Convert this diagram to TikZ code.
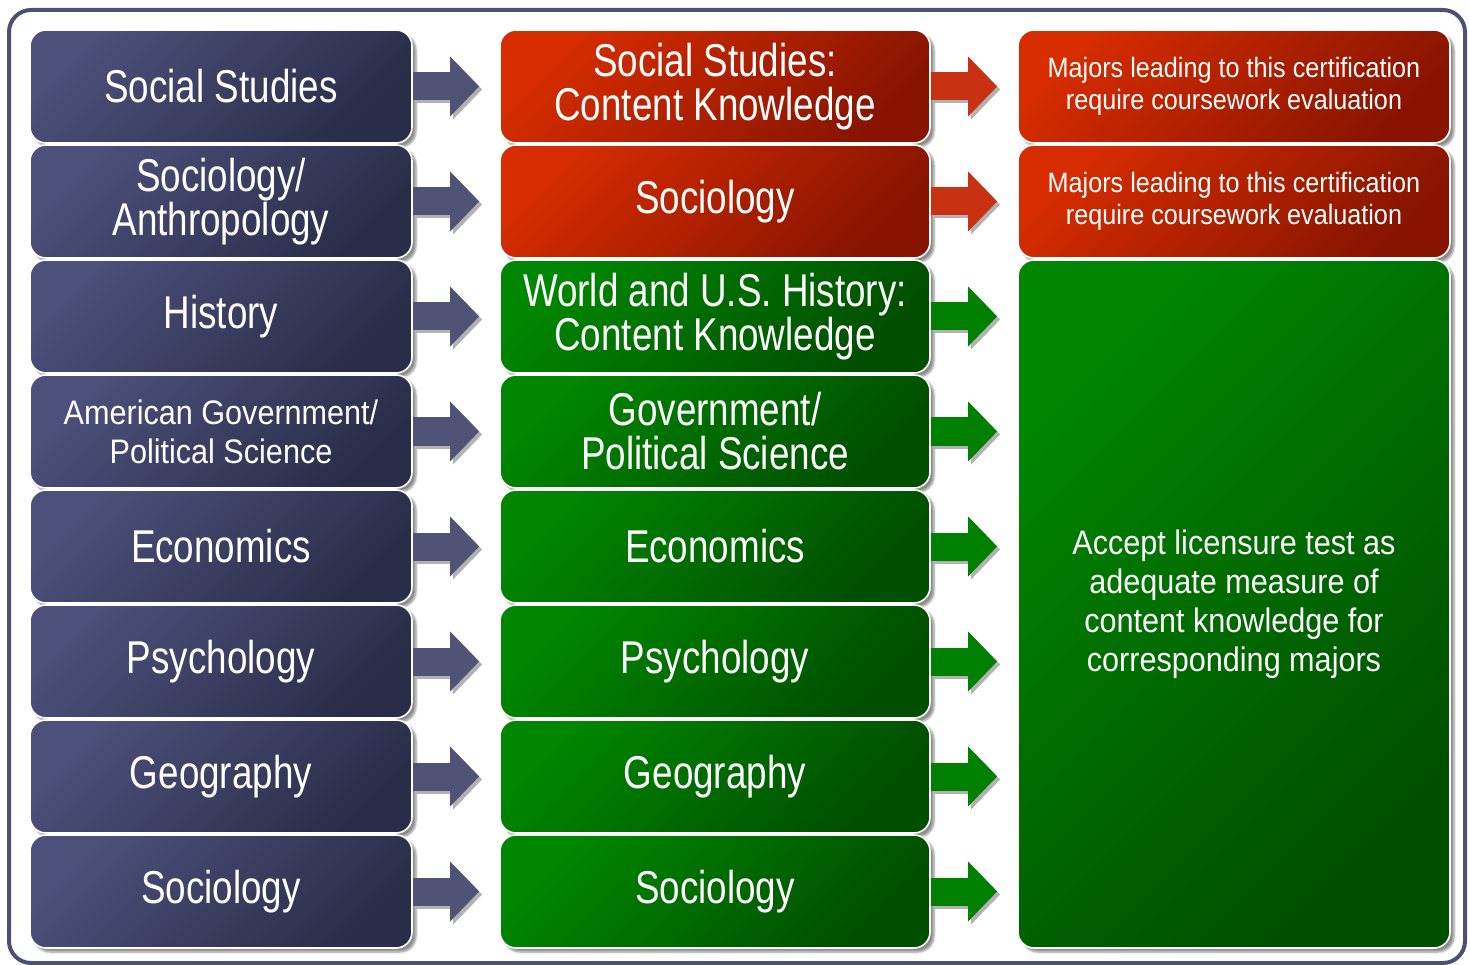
\documentclass[tikz,border=0pt]{standalone}
\usepackage{fontspec}
\setmainfont{Liberation Sans}[FakeStretch=0.9]
\newfontfamily\narrowfont{Liberation Sans}[FakeStretch=0.8]
\usepackage{tikz}
\usetikzlibrary{arrows.meta,shadows.blur}
\definecolor{frameSlate}{RGB}{76,80,116}
\definecolor{slateLight}{RGB}{76,80,122}
\definecolor{slateDark}{RGB}{42,45,72}
\definecolor{slateArrow}{RGB}{80,82,118}
\definecolor{redLight}{RGB}{214,44,0}
\definecolor{redDark}{RGB}{136,20,0}
\definecolor{redArrow}{RGB}{200,50,18}
\definecolor{greenLight}{RGB}{0,134,0}
\definecolor{greenDark}{RGB}{0,78,0}
\definecolor{greenArrow}{RGB}{0,128,0}

\begin{document}
\begin{tikzpicture}[x=1pt, y=-1pt,
      box/.style={rounded corners=16pt, draw=white, line width=1.6pt, text=white,
        align=center, inner sep=0pt, minimum height=113pt,
        blur shadow={shadow xshift=4pt, shadow yshift=-4pt, shadow blur steps=6, shadow opacity=45}},
      major/.style={box, minimum width=382pt, top color=slateLight, bottom color=slateDark,
        shading angle=45},
      redbox/.style={box, top color=redLight, bottom color=redDark, shading angle=45},
      greenbox/.style={box, top color=greenLight, bottom color=greenDark, shading angle=45},
      test/.style={minimum width=430pt},
      note/.style={minimum width=432pt},
      big/.style={font=\narrowfont\fontsize{46}{44}\selectfont},
      mid/.style={font=\fontsize{34}{39}\selectfont},
      small/.style={font=\fontsize{28}{32}\selectfont},
      conn/.style={line width=28pt, shorten >=20pt, -{Triangle[length=29pt, width=58pt]}},
      connshadow/.style={conn, black!30, transform canvas={shift={(3pt,-3pt)}}}]
    \useasboundingbox (0,0) rectangle (1470,965);
    \draw[frameSlate, line width=4pt, rounded corners=22pt] (9,10) rectangle (1465,963);
    % majors
    \node[major, big] (s1) at (221,86.5) {Social Studies};
    \node[major, big] (s2) at (221,201.5) {Sociology/\\Anthropology};
    \node[major, big] (s3) at (221,316.5) {History};
    \node[major, mid] (s4) at (221,431.5) {American Government/\\Political Science};
    \node[major, big] (s5) at (221,546.5) {Economics};
    \node[major, big] (s6) at (221,661.5) {Psychology};
    \node[major, big] (s7) at (221,776.5) {Geography};
    \node[major, big] (s8) at (221,891.5) {Sociology};
    % licensure tests
    \node[redbox, test, big] (m1) at (715,86.5) {Social Studies:\\Content Knowledge};
    \node[redbox, test, big] (m2) at (715,201.5) {Sociology};
    \node[greenbox, test, big] (m3) at (715,316.5) {World and U.S. History:\\Content Knowledge};
    \node[greenbox, test, big] (m4) at (715,431.5) {Government/\\Political Science};
    \node[greenbox, test, big] (m5) at (715,546.5) {Economics};
    \node[greenbox, test, big] (m6) at (715,661.5) {Psychology};
    \node[greenbox, test, big] (m7) at (715,776.5) {Geography};
    \node[greenbox, test, big] (m8) at (715,891.5) {Sociology};
    % outcomes
    \node[redbox, note, small] (r1) at (1234,86.5)
      {Majors leading to this certification\\require coursework evaluation};
    \node[redbox, note, small] (r2) at (1234,201.5)
      {Majors leading to this certification\\require coursework evaluation};
    \node[greenbox, note, mid, minimum height=688pt] (accept) at (1234,604)
      {Accept licensure test as\\adequate measure of\\content knowledge for\\corresponding majors};
    % arrows
    \foreach \i in {1,...,8} {
      \draw[connshadow] (s\i) -- (m\i);
      \draw[conn, slateArrow] (s\i) -- (m\i);
    }
    \foreach \i in {1,2} {
      \draw[connshadow] (m\i) -- (r\i);
      \draw[conn, redArrow] (m\i) -- (r\i);
    }
    \foreach \i in {3,...,8} {
      \draw[connshadow] (m\i.east) -- (m\i -| accept.west);
      \draw[conn, greenArrow] (m\i.east) -- (m\i -| accept.west);
    }
  \end{tikzpicture}
\end{document}
